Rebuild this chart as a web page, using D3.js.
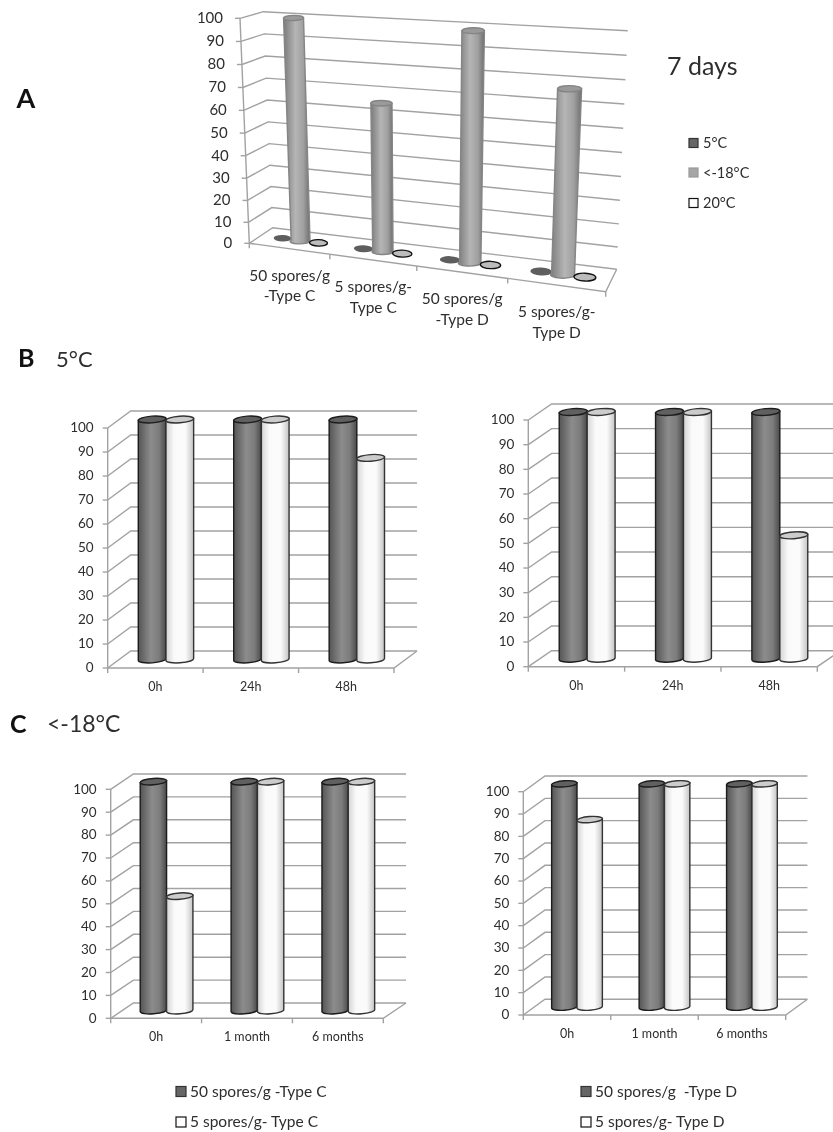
<!DOCTYPE html>
<html>
<head>
<meta charset="utf-8">
<script src="https://cdnjs.cloudflare.com/ajax/libs/d3/7.8.5/d3.min.js"></script>
<style>
    html, body { margin: 0; padding: 0; background: #fff; }
    svg { display: block; filter: blur(0.35px); }
    text { font-family: Lato, "Open Sans", sans-serif; fill: #2e2e2e; }
    .grid { stroke: #a2a2a2; stroke-width: 1.4; fill: none; }
    .tick line { stroke: #a2a2a2; stroke-width: 1.4; }
</style>
</head>
<body>
<script>

// values
var percentTicks = d3.range(0, 101, 10);

var catsA = [["50 spores/g", "-Type C"], ["5 spores/g-", "Type C"], ["50 spores/g", "-Type D"], ["5 spores/g-", "Type D"]];
var a5C = [0, 0, 0, 0];
var aMinus18C = [100, 66, 100, 79];
var a20C = [0, 0, 0, 0];

var catsB = ["0h", "24h", "48h"];
var b50C = [100, 100, 100];
var b5C = [100, 100, 84];
var b50D = [100, 100, 100];
var b5D = [100, 100, 50];

var catsC = ["0h", "1 month", "6 months"];
var c50C = [100, 100, 100];
var c5C = [50, 100, 100];
var c50D = [100, 100, 100];
var c5D = [84, 100, 100];

var width = 833, height = 1132;

var svg = d3.select("body").append("svg").attr("width", width).attr("height", height);
var defs = svg.append("defs");

function gradient(id, stops) {
    var g = defs.append("linearGradient").attr("id", id);
    stops.forEach(function(s) {
        g.append("stop").attr("offset", s[0]).attr("stop-color", s[1]);
    });
}
gradient("dark", [[0, "#555"], [0.45, "#8c8c8c"], [0.75, "#7c7c7c"], [1, "#4a4a4a"]]);
gradient("light", [[0, "#d4d4d4"], [0.3, "#fafafa"], [0.7, "#fbfbfb"], [1, "#c4c4c4"]]);
gradient("mid", [[0, "#7b7b7b"], [0.45, "#b5b5b5"], [0.75, "#a0a0a0"], [1, "#6e6e6e"]]);

var styles = {
    dark: { body: "url(#dark)", cap: "#606060", stroke: "#1c1c1c" },
    light: { body: "url(#light)", cap: "#cccccc", stroke: "#333" },
    mid: { body: "url(#mid)", cap: "#9a9a9a", stroke: "#858585" },
    disc: { body: "#5e5e5e", cap: "#5e5e5e", stroke: "none" },
    ring: { body: "#bcbcbc", cap: "#bcbcbc", stroke: "#111" }
};

function lerp(a, b, t) { return [a[0] + (b[0] - a[0]) * t, a[1] + (b[1] - a[1]) * t]; }

// flat box for the B and C charts: same depth offset at all corners
function box(x0, x1, y0, y100, dx, dy) {
    return {
        fl: [x0, y0], fr: [x1, y0], bl: [x0 + dx, y0 + dy], br: [x1 + dx, y0 + dy],
        tfl: [x0, y100], tfr: [x1, y100], tbl: [x0 + dx, y100 + dy], tbr: [x1 + dx, y100 + dy]
    };
}

function drawPanel(p) {
    var n = p.cats.length;
    var g = svg.append("g");
    var hScale = d3.scalePow().exponent(p.hExp || 1).domain([0, 100]).range([0, 1]);
    var catPos = p.stops
        ? d3.scaleLinear().domain(d3.range(n + 1)).range(p.stops)
        : d3.scaleLinear().domain([0, n]).range([0, 1]);
    var inner = d3.scaleBand().domain(d3.range(p.series.length)).range(p.inner);

    function project(u, v, h) {
        var bottom = lerp(lerp(p.c.fl, p.c.fr, u), lerp(p.c.bl, p.c.br, u), v);
        var top = lerp(lerp(p.c.tfl, p.c.tfr, u), lerp(p.c.tbl, p.c.tbr, u), v);
        return lerp(bottom, top, hScale(h));
    }
    var line = d3.line();

    // walls and floor
    percentTicks.forEach(function(t) {
        g.append("path").attr("class", "grid")
            .attr("d", line([project(0, 0, t), project(0, 1, t), project(1, 1, t)]));
    });
    g.append("path").attr("class", "grid").attr("d", line([project(0, 0, 100), project(0, 0, 0), project(1, 0, 0), project(1, 1, 0)]));

    // y axis, every tick moved onto the slanted edge
    var yAxis = d3.axisLeft(d3.scaleLinear().domain([0, 100]).range([0, 0]))
        .tickValues(percentTicks).tickSize(p.tick).tickPadding(p.yPad);
    g.append("g").call(yAxis).call(function(s) {
        s.select(".domain").remove();
        s.selectAll(".tick").attr("transform", function(d) {
            var q = project(0, 0, d);
            return "translate(" + q[0] + "," + q[1] + ")";
        });
        s.selectAll("text").style("font-size", p.yFont + "px");
        s.attr("font-family", null).attr("font-size", null);
    });

    // x axis: labels centred on categories, tick marks on the boundaries
    d3.range(n + 1).forEach(function(i) {
        var q = project(catPos(i), 0, 0);
        g.append("line").attr("class", "grid")
            .attr("x1", q[0]).attr("y1", q[1]).attr("x2", q[0]).attr("y2", q[1] + p.tick);
    });
    var xAxis = d3.axisBottom(d3.scaleBand().domain(d3.range(n)).range([0, 0]))
        .tickSize(0).tickPadding(0).tickFormat("");
    g.append("g").call(xAxis).call(function(s) {
        s.select(".domain").remove();
        s.attr("font-family", null).attr("font-size", null);
        s.selectAll(".tick").attr("transform", function(d) {
            var q = project(catPos(d + 0.5), 0, 0);
            return "translate(" + q[0] + "," + (q[1] + p.xGap) + ")";
        });
        s.selectAll(".tick text").each(function(d) {
            var t = d3.select(this).attr("y", 0).attr("dy", null).style("font-size", p.xFont + "px");
            [].concat(p.cats[d]).forEach(function(str, k) {
                t.append("tspan").attr("x", 0).attr("dy", k ? p.xLead : 0).text(str);
            });
        });
    });

    // cylinders
    p.series.forEach(function(s, si) {
        s.values.forEach(function(val, ci) {
            var st = styles[s.style];
            var c0 = catPos(ci), c1 = catPos(ci + 1);
            var w = (c1 - c0) * inner.bandwidth() * (val > 0 ? p.barWiden : 1);
            var mid = c0 + (c1 - c0) * (inner(si) + inner.bandwidth() / 2);
            var u0 = mid - w / 2, u1 = mid + w / 2;
            var lb = project(u0, 0.5, 0), rb = project(u1, 0.5, 0);
            var lt = project(u0, 0.5, val), rt = project(u1, 0.5, val);
            lb[1] += p.tilt; rb[1] -= p.tilt; lt[1] += p.tilt; rt[1] -= p.tilt;
            var rx = Math.hypot(rt[0] - lt[0], rt[1] - lt[1]) / 2;
            var ry = rx * (val > 0 ? p.capRatio : p.discRatio);
            var rot = Math.atan2(rt[1] - lt[1], rt[0] - lt[0]) * 180 / Math.PI;
            var arc = " A" + rx + " " + ry + " " + rot + " 1 1 ";
            if (val > 0) {
                g.append("path")
                    .attr("d", "M" + lt + " L" + lb + " A" + rx + " " + ry + " " + rot + " 1 0 " + rb + " L" + rt + " Z")
                    .attr("fill", st.body).attr("stroke", st.stroke).attr("stroke-width", 1.4);
            }
            g.append("path")
                .attr("d", "M" + lt + arc + rt + arc + lt + " Z")
                .attr("fill", st.cap).attr("stroke", st.stroke).attr("stroke-width", 1.4);
        });
    });
}

drawPanel({
    cats: catsA,
    stops: [0, 0.226, 0.47, 0.725, 1],
    c: {
        fl: [249.3, 243.3], fr: [605.7, 291.7], bl: [272.7, 227.7], br: [616.7, 269.3],
        tfl: [240, 18.3], tfr: [617, 52], tbl: [263.3, 11.7], tbr: [627.7, 30.7]
    },
    series: [
        { style: "disc", values: a5C },
        { style: "mid", values: aMinus18C },
        { style: "ring", values: a20C }
    ],
    inner: [0.16, 0.84], barWiden: 1.05, hExp: 1.03,
    tick: 5, yPad: 12, yFont: 15, xGap: 32, xFont: 15.5, xLead: 20.5, tilt: 0.9, capRatio: 0.26, discRatio: 0.36
});

var panelRest = { tick: 5, yPad: 9, yFont: 13.5, xGap: 23, xFont: 12.5, xLead: 0, tilt: 1, capRatio: 0.24, discRatio: 0.24, inner: [0.2, 0.78], barWiden: 1 };

drawPanel(Object.assign({}, panelRest, {
    cats: catsB, c: box(107.7, 394, 668, 428, 23, -17),
    series: [{ style: "dark", values: b50C }, { style: "light", values: b5C }]
}));
drawPanel(Object.assign({}, panelRest, {
    cats: catsB, c: box(528.3, 817.3, 666.7, 420, 23.3, -16),
    series: [{ style: "dark", values: b50D }, { style: "light", values: b5D }]
}));
drawPanel(Object.assign({}, panelRest, {
    cats: catsC, c: box(110.7, 383.3, 1018.3, 789.3, 22.7, -15.3),
    series: [{ style: "dark", values: c50C }, { style: "light", values: c5C }]
}));
drawPanel(Object.assign({}, panelRest, {
    cats: catsC, c: box(523.3, 785.7, 1015, 791.7, 21.7, -15.7),
    series: [{ style: "dark", values: c50D }, { style: "light", values: c5D }]
}));

// headings
function label(x, y, str, size, weight) {
    svg.append("text").attr("x", x).attr("y", y).attr("font-size", size)
        .attr("font-weight", weight || "normal").style("fill", weight ? "#111" : "#2e2e2e").text(str);
}
label(16.5, 108, "A", 27, "bold");
label(18, 367, "B", 25, "bold");
label(56, 367, "5°C", 22);
label(10, 733, "C", 25, "bold");
label(47, 732, "<-18°C", 23);
label(667, 75, "7 days", 25);

// legends
function legend(x, y, str, size, sw, gap, style) {
    svg.append("rect").attr("x", x).attr("y", y - sw / 2).attr("width", sw).attr("height", sw)
        .attr("fill", style.fill).attr("stroke", style.stroke).attr("stroke-width", 1.2);
    svg.append("text").attr("x", x + sw + gap).attr("y", y).attr("dy", "0.35em").attr("font-size", size).text(str);
}
var keyDark = { fill: "#666", stroke: "#333" }, keyMid = { fill: "#a6a6a6", stroke: "#999" }, keyWhite = { fill: "#fff", stroke: "#111" };
legend(689, 143, "5°C", 14.5, 9, 5, keyDark);
legend(689, 172.5, "<-18°C", 14.5, 9, 5, keyMid);
legend(689, 203, "20°C", 14.5, 9, 5, keyWhite);
legend(176, 1091.5, "50 spores/g -Type C", 15.5, 10, 4, keyDark);
legend(176, 1122, "5 spores/g- Type C", 15.5, 10, 4, keyWhite);
legend(581, 1091.5, "50 spores/g \u00a0-Type D", 15.5, 10, 4, keyDark);
legend(581, 1122, "5 spores/g- Type D", 15.5, 10, 4, keyWhite);

</script>
</body>
</html>
